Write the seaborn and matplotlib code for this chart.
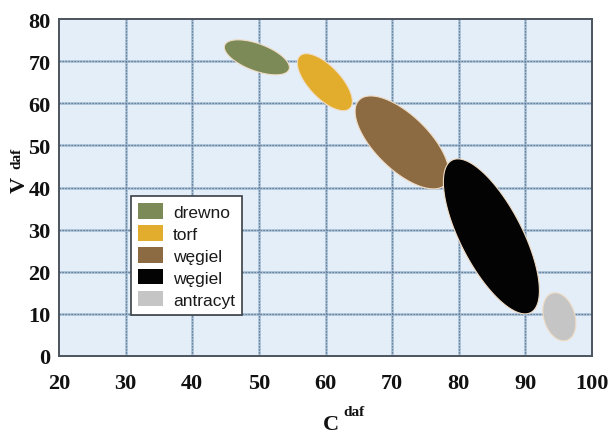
import numpy as np
import matplotlib
matplotlib.use("Agg")
import matplotlib.pyplot as plt
from matplotlib.patches import Patch
import seaborn as sns

# Fuel classes on the C^daf / V^daf plane
labels = ["drewno", "torf", "węgiel", "węgiel", "antracyt"]
colors = ["#7b8a57", "#e2ac2c", "#8d6b42", "#030303", "#c4c5c4"]
c_center = [49.7, 59.9, 71.5, 84.9, 95.1]      # C daf, %
v_center = [70.9, 65.0, 50.7, 28.4, 9.3]       # V daf, %
half_len = [5.16, 5.44, 9.06, 12.87, 3.7]      # semi-major axis, in C units along the screen
half_wid = [2.03, 2.4, 4.05, 4.65, 2.33]       # semi-minor axis, in C units along the screen
tilt_deg = [-20.6, -46.5, -44.5, -62.7, -73]   # on-screen tilt of the major axis

x_ticks = [20, 30, 40, 50, 60, 70, 80, 90, 100]
y_ticks = [0, 10, 20, 30, 40, 50, 60, 70, 80]

sns.set_theme(style="white", rc={
    "axes.facecolor": "#e3eef8",
    "axes.edgecolor": "#4b545c",
    "axes.linewidth": 1.4,
})
plt.rcParams["font.family"] = ["Liberation Serif", "DejaVu Serif"]

fig = plt.figure(figsize=(6.13, 4.35), dpi=100)
fig.patch.set_facecolor("white")
ax = fig.add_axes([59 / 613, 1 - 357 / 435, 533 / 613, 337 / 435])
ax.set_xlim(x_ticks[0], x_ticks[-1])
ax.set_ylim(y_ticks[0], y_ticks[-1])
ax.set_xticks(x_ticks)
ax.set_yticks(y_ticks)

# Grid: soft blue line with darker dots on top
for xv in x_ticks[1:-1]:
    ax.axvline(xv, color="#a5bdd4", lw=1.8, zorder=0.5)
    ax.axvline(xv, color="#56708b", lw=0.9, ls=(0, (1, 1.4)), zorder=0.6)
for yv in y_ticks[1:-1]:
    ax.axhline(yv, color="#a5bdd4", lw=1.8, zorder=0.5)
    ax.axhline(yv, color="#56708b", lw=0.9, ls=(0, (1, 1.4)), zorder=0.6)

ax.tick_params(axis="both", which="major", direction="out", length=3, width=1,
               color="#4b545c", labelsize=16, labelcolor="#111111")
ax.tick_params(axis="x", pad=9)
ax.tick_params(axis="y", pad=3)
for lab in ax.get_xticklabels() + ax.get_yticklabels():
    lab.set_fontweight("bold")
    lab.set_family(["Liberation Serif", "DejaVu Serif"])

# Ellipses, built on screen and mapped back to data coordinates
fig.canvas.draw()
trans = ax.transData
px_per_c = trans.transform((1, 0))[0] - trans.transform((0, 0))[0]
t = np.linspace(0, 2 * np.pi, 240)
for cx, cy, a, b, th, col in zip(c_center, v_center, half_len, half_wid, tilt_deg, colors):
    th = np.deg2rad(th)
    u = a * px_per_c * np.cos(t)
    w = b * px_per_c * np.sin(t)
    dx = u * np.cos(th) - w * np.sin(th)
    dy = u * np.sin(th) + w * np.cos(th)
    cpx = trans.transform((cx, cy))
    pts = trans.inverted().transform(np.column_stack([cpx[0] + dx, cpx[1] + dy]))
    ax.fill(pts[:, 0], pts[:, 1], color=col, ec="#f1dcc4", lw=0.8, zorder=2)

handles = [Patch(facecolor=c, edgecolor="none") for c in colors]
leg = ax.legend(handles, labels, loc="lower left", bbox_to_anchor=(0.135, 0.122),
                borderaxespad=0, frameon=True, fancybox=False, framealpha=1,
                edgecolor="#3a3f44", facecolor="white",
                prop={"family": "Liberation Sans", "size": 12.5},
                handlelength=1.44, handleheight=1.0, labelspacing=0.3,
                handletextpad=0.57, borderpad=0.42)
leg.get_frame().set_linewidth(1.2)
leg.set_zorder(5)
for txt in leg.get_texts():
    txt.set_color("#1a1a1a")

# Axis titles with superscripts
fig.text(323 / 613, 1 - 430 / 435, "C", fontsize=16, fontweight="bold",
         family="Liberation Serif", ha="left", va="baseline", color="#111111")
fig.text(343 / 613, 1 - 416 / 435, "daf", fontsize=11, fontweight="bold",
         family="Liberation Serif", ha="left", va="baseline", color="#111111")
fig.text(25 / 613, 1 - 193 / 435, "V", fontsize=16, fontweight="bold",
         family="Liberation Serif", ha="left", va="baseline", rotation=90,
         rotation_mode="anchor", color="#111111")
fig.text(20 / 613, 1 - 169 / 435, "daf", fontsize=11, fontweight="bold",
         family="Liberation Serif", ha="left", va="baseline", rotation=90,
         rotation_mode="anchor", color="#111111")

fig.savefig("out.png", dpi=100)
